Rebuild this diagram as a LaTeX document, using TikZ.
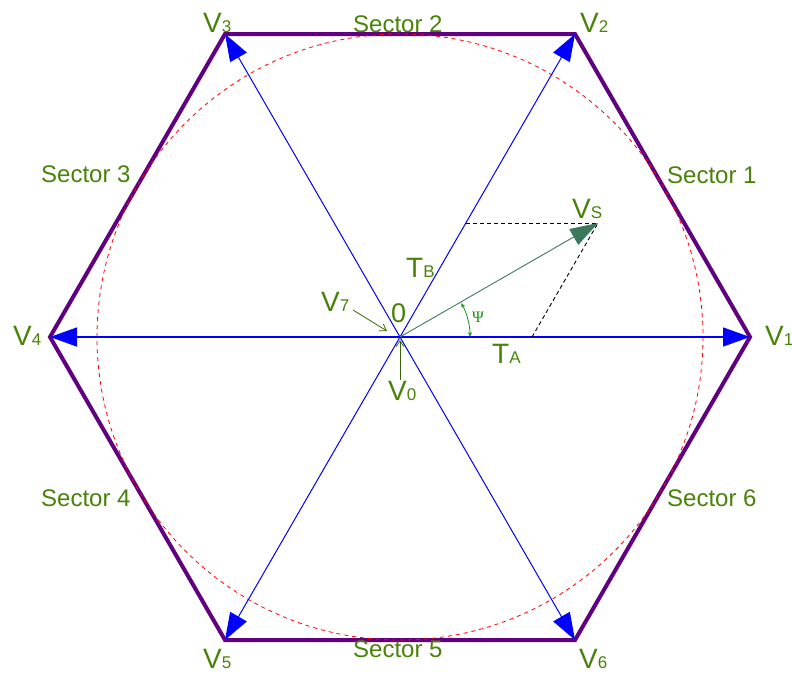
\documentclass[tikz,border=0pt]{standalone}
\usepackage{fontspec}
\setmainfont{Liberation Sans}
\newfontfamily\psifont{Liberation Serif}
\usetikzlibrary{arrows.meta,calc}
\definecolor{hexpurple}{RGB}{96,0,128}
\definecolor{txtgreen}{RGB}{72,130,8}
\definecolor{vsgreen}{RGB}{60,120,92}
\definecolor{psigreen}{RGB}{20,150,20}
\definecolor{vblue}{RGB}{0,0,255}
\newcommand{\Vlab}[1]{{\fontsize{28}{28}\selectfont V}{\fontsize{17}{17}\selectfont #1}}
\newcommand{\Tlab}[1]{{\fontsize{28}{28}\selectfont T}{\fontsize{17}{17}\selectfont #1}}
\tikzset{
  hexline/.style={draw=hexpurple, line width=4pt, line join=miter},
  circline/.style={draw=red, line width=0.8pt, dash pattern=on 4pt off 4pt},
  bluearrow/.style={draw=vblue, line width=1pt, -{Triangle[length=27pt,width=19pt]}},
  vsarrow/.style={draw=vsgreen, line width=0.9pt, -{Triangle[length=28pt,width=18pt]}},
  helper/.style={draw=black, line width=0.9pt, dash pattern=on 4pt off 3pt},
  greenarrow/.style={draw=txtgreen!80!black, line width=0.8pt, -{Straight Barb[length=6pt,width=8pt]}},
  lab/.style={text=txtgreen, inner sep=0pt, anchor=base west},
  seclab/.style={text=txtgreen, inner sep=0pt, anchor=base west, font=\fontsize{24}{24}\selectfont},
}
\begin{document}
\begin{tikzpicture}[x=1pt,y=-1pt]
\useasboundingbox (0,0) rectangle (792,673);
\coordinate (O) at (400,337);
\coordinate (P1) at (750,337);
\coordinate (P2) at (575,34);
\coordinate (P3) at (225,34);
\coordinate (P4) at (50,337);
\coordinate (P5) at (225,640);
\coordinate (P6) at (575,640);
\coordinate (S) at (598,223);
\coordinate (TBend) at (466,223);
\coordinate (TAend) at (532,337);
\coordinate (PsiA) at (470,337);

% hexagon
\draw[hexline] (P1) -- (P2) -- (P3) -- (P4) -- (P5) -- (P6) -- cycle;
% inscribed circle
\draw[circline] (O) circle[radius=303];
% blue vectors
\foreach \p in {P2,P3,P5,P6} \draw[bluearrow] (O) -- (\p);
\foreach \p in {P1,P4} \draw[bluearrow, line width=1.3pt] (O) -- (\p);
% helper dashed lines
\draw[helper] (TBend) -- (S);
\draw[helper] (TAend) -- (S);
% Vs vector
\draw[vsarrow] (O) -- (S);
% psi arc
\draw[draw=psigreen, line width=0.8pt, {Stealth[length=5pt,width=4pt]}-{Stealth[length=5pt,width=4pt]}] (PsiA) arc[start angle=0, end angle=-29, radius=70];

% labels
\node[lab] (L1) at (765,345) {\Vlab{1}};
\node[lab] (L2) at (580,32) {\Vlab{2}};
\node[lab] (L3) at (203,32) {\Vlab{3}};
\node[lab] (L4) at (13,345) {\Vlab{4}};
\node[lab] (L5) at (203,668) {\Vlab{5}};
\node[lab] (L6) at (579,668) {\Vlab{6}};
\node[lab] (LS) at (572,218) {\Vlab{S}};
\node[lab] (LTB) at (406,277) {\Tlab{B}};
\node[lab] (LTA) at (492,363) {\Tlab{A}};
\node[lab] (L7) at (321,311) {\Vlab{7}};
\node[lab] (L0) at (388,400) {\Vlab{0}};
\node[lab, font=\fontsize{27}{27}\selectfont] (Lzero) at (391,322) {0};
\node[text=psigreen, inner sep=0pt, anchor=base west, font=\psifont\fontsize{16}{16}\selectfont] (Lpsi) at (472,322) {Ψ};

\node[seclab] (S1) at (667,183) {Sector 1};
\node[seclab] (S2) at (353,32) {Sector 2};
\node[seclab] (S3) at (41,182) {Sector 3};
\node[seclab] (S4) at (41,506) {Sector 4};
\node[seclab] (S5) at (353,657) {Sector 5};
\node[seclab] (S6) at (667,506) {Sector 6};

% pointer arrows
\coordinate (A7) at (353,310);
\coordinate (B7) at (387,331);
\coordinate (A0) at (400,380);
\coordinate (B0) at (400,340);
\draw[greenarrow] (A7) -- (B7);
\draw[greenarrow] (A0) -- (B0);
\end{tikzpicture}
\end{document}
